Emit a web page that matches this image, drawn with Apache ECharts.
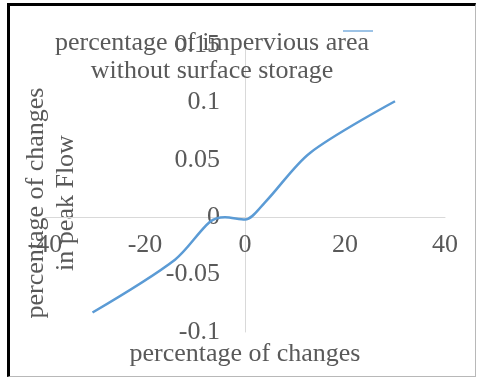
<!DOCTYPE html>
<html>
<head>
<meta charset="utf-8">
<script src="https://cdn.jsdelivr.net/npm/echarts@6/dist/echarts.min.js"></script>
<style>
  html, body { margin: 0; padding: 0; background: #fff; }
  #frame { position: absolute; left: 7px; top: 3px; width: 465px; height: 370px;
           border-left: 3px solid #000; border-top: 3px solid #000;
           border-right: 1px solid #b8b8b8; border-bottom: 1px solid #b8b8b8; }
  #chart { position: absolute; left: 0; top: 0; width: 477px; height: 377px; }
</style>
</head>
<body>
<div id="frame"></div>
<div id="chart"></div>
<script>
const xValues = [-30.5, -14, -7, -4, 0, 4, 13, 30];
const yValues = [-0.083, -0.037, -0.004, 0.0, -0.002, 0.013, 0.056, 0.101];
const xTicks = { min: -40, max: 40, interval: 20 };
const yTicks = { min: -0.1, max: 0.15, interval: 0.05 };
const titleText = 'percentage of impervious area\nwithout surface storage';
const xName = 'percentage of changes';
const yName = 'percentage of changes\nin peak Flow';

const FONT = '"Liberation Serif", "Times New Roman", serif';
const GRAY = '#595959';
const FS = 26;

const W = 477, H = 377;
const grid = { left: 45, right: 32, top: 45, bottom: 45 };
const plotW = W - grid.left - grid.right;
const plotH = H - grid.top - grid.bottom;
// move the axes so they cross at zero (labels follow the axis lines)
const yAxisOffset = -((0 - xTicks.min) / (xTicks.max - xTicks.min)) * plotW;
const xAxisOffset = -((0 - yTicks.min) / (yTicks.max - yTicks.min)) * plotH;

const chart = echarts.init(document.getElementById('chart'), null, { renderer: 'canvas' });
chart.setOption({
  animation: false,
  backgroundColor: 'transparent',
  title: {
    text: titleText,
    left: 212, top: 29, textAlign: 'center', padding: 0,
    textStyle: { fontFamily: FONT, fontSize: FS, fontWeight: 'normal', color: GRAY, lineHeight: 28 }
  },
  legend: {
    data: ['impervious'],
    left: 343, top: 30, padding: 0,
    icon: 'rect', itemWidth: 30, itemHeight: 2,
    formatter: () => '',
    itemGap: 0,
    textStyle: { fontSize: 1 }
  },
  grid: Object.assign({ outerBoundsMode: 'none', containLabel: false }, grid),
  xAxis: {
    type: 'value', min: xTicks.min, max: xTicks.max, interval: xTicks.interval,
    offset: xAxisOffset,
    axisLine: { onZero: false, lineStyle: { color: '#d9d9d9', width: 1 } },
    axisTick: { show: false },
    splitLine: { show: false },
    axisLabel: { fontFamily: FONT, fontSize: FS, color: GRAY, margin: 15 },
    name: xName, nameLocation: 'middle', nameGap: 124,
    nameTextStyle: { fontFamily: FONT, fontSize: FS, color: GRAY }
  },
  yAxis: {
    type: 'value', min: yTicks.min, max: yTicks.max, interval: yTicks.interval,
    offset: yAxisOffset,
    axisLine: { onZero: false, lineStyle: { color: '#d9d9d9', width: 1 } },
    axisTick: { show: false },
    splitLine: { show: false },
    axisLabel: { fontFamily: FONT, fontSize: FS, color: GRAY, margin: 25 }
  },
  graphic: [{
    type: 'text', x: 51, y: 203, rotation: Math.PI / 2,
    style: { text: yName, fontFamily: FONT, fontSize: FS, fill: GRAY, lineHeight: 30,
             align: 'center', verticalAlign: 'middle' }
  }],
  series: [{
    name: 'impervious',
    type: 'line',
    smooth: 0.3,
    showSymbol: false,
    data: xValues.map((x, i) => [x, yValues[i]]),
    lineStyle: { color: '#5b9bd5', width: 2.5 },
    itemStyle: { color: '#9dc3e6' }
  }]
});
</script>
</body>
</html>
